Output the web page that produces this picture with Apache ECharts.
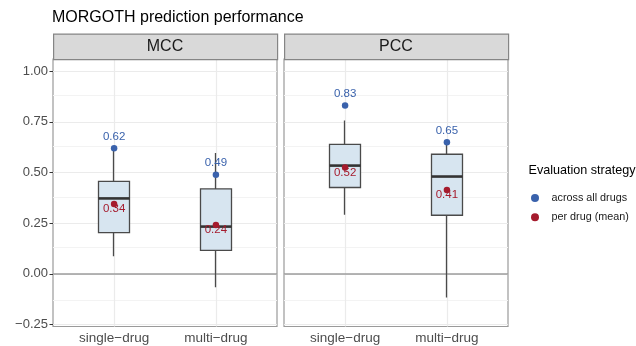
<!DOCTYPE html>
<html>
<head>
<meta charset="UTF-8">
<title>MORGOTH prediction performance</title>
<script src="https://cdn.jsdelivr.net/npm/echarts@6.0.0/dist/echarts.min.js"></script>
<style>
  body { margin: 0; padding: 0; background: #fff; }
  #main { width: 636px; height: 346px; }
</style>
</head>
<body>
<div id="main"></div>
<script>
// data
const panels = ['MCC', 'PCC'];
const categories = ['single\u2212drug', 'multi\u2212drug'];
// [min, Q1, median, Q3, max]
const mccBox = [[0.087, 0.203, 0.372, 0.456, 0.62], [-0.066, 0.116, 0.233, 0.419, 0.596]];
const pccBox = [[0.291, 0.426, 0.534, 0.639, 0.757], [-0.117, 0.289, 0.48, 0.59, 0.65]];
const mccAcross = [0.62, 0.489];
const mccPerDrug = [0.344, 0.241];
const pccAcross = [0.83, 0.649];
const pccPerDrug = [0.524, 0.414];
const yMajor = [-0.25, 0, 0.25, 0.5, 0.75, 1];
const yMinor = [-0.125, 0.125, 0.375, 0.625, 0.875];
const xMajor = [1, 2];

const FONT = '"Liberation Sans", Arial, Helvetica, sans-serif';
const BLUE = '#3a62ac';
const RED = '#a51b2d';
const BOXLINE = '#4a4a4a';
const panelLeft = [53, 284];
const panelWidth = 224;

const boxes = [mccBox, pccBox];
const across = [mccAcross, pccAcross];
const perDrug = [mccPerDrug, pccPerDrug];

const myChart = echarts.init(document.getElementById('main'), null, {renderer: 'canvas'});

let grids = [], xAxes = [], yAxes = [], series = [], graphics = [];

panels.forEach(function (name, p) {
    grids.push({
        left: panelLeft[p], width: panelWidth, top: 59, bottom: 19.5,
        show: true, borderColor: '#9a9a9a', borderWidth: 1.2, backgroundColor: 'transparent'
    });
    xAxes.push({
        type: 'value', gridIndex: p, min: 0.4, max: 2.6,
        axisLine: {show: false},
        splitLine: {show: false},
        axisTick: {show: true, customValues: xMajor, length: 3.5, lineStyle: {color: '#333', width: 1}},
        axisLabel: {
            customValues: xMajor, margin: 5,
            color: '#4d4d4d', fontSize: 13.5, fontFamily: FONT,
            formatter: function (v) { return categories[Math.round(v) - 1] || ''; }
        }
    });
    yAxes.push({
        type: 'value', gridIndex: p, min: -0.26, max: 1.06,
        axisLine: {show: false},
        splitLine: {show: false},
        axisTick: {show: p === 0, customValues: yMajor, length: 3.5, lineStyle: {color: '#333', width: 1}},
        axisLabel: {
            show: p === 0, customValues: yMajor, margin: 5,
            color: '#4d4d4d', fontSize: 13, fontFamily: FONT,
            formatter: function (v) { return v.toFixed(2).replace('-', '\u2212'); }
        }
    });

    // grid lines and the zero line
    let lines = [];
    yMinor.forEach(function (v) { lines.push({yAxis: v, lineStyle: {color: '#f3f3f3', width: 1, type: 'solid'}}); });
    yMajor.forEach(function (v) { lines.push({yAxis: v, lineStyle: {color: '#ebebeb', width: 1.2, type: 'solid'}}); });
    xMajor.forEach(function (v) { lines.push({xAxis: v, lineStyle: {color: '#ebebeb', width: 1.2, type: 'solid'}}); });
    lines.push({yAxis: 0, lineStyle: {color: '#9c9c9c', width: 1.6, type: 'solid'}});
    series.push({
        type: 'line', xAxisIndex: p, yAxisIndex: p, data: [], silent: true,
        markLine: {z: 1, silent: true, symbol: 'none', label: {show: false}, animation: false, data: lines}
    });

    // box + whiskers (no caps, like ggplot): candlestick [x, Q1, Q3, min, max]
    series.push({
        type: 'candlestick', xAxisIndex: p, yAxisIndex: p, z: 2, silent: true,
        barWidth: 31,
        itemStyle: {
            color: '#d7e5f0', color0: '#d7e5f0',
            borderColor: BOXLINE, borderColor0: BOXLINE, borderColorDoji: BOXLINE,
            borderWidth: 1.3
        },
        data: boxes[p].map(function (b, i) { return [i + 1, b[1], b[3], b[0], b[4]]; })
    });
    // thicker median bar
    series.push({
        type: 'scatter', xAxisIndex: p, yAxisIndex: p, z: 3, silent: true,
        symbol: 'rect', symbolSize: [31, 2.6],
        itemStyle: {color: '#333', opacity: 1},
        data: boxes[p].map(function (b, i) { return [i + 1, b[2]]; })
    });
    series.push({
        name: 'across all drugs', type: 'scatter', xAxisIndex: p, yAxisIndex: p, z: 4,
        symbolSize: 6.5, itemStyle: {color: BLUE, opacity: 1},
        label: {
            show: true, position: 'inside', offset: [0, -11.5],
            color: BLUE, fontSize: 11.5, fontFamily: FONT,
            formatter: function (d) { return d.value[1].toFixed(2); }
        },
        data: across[p].map(function (v, i) { return [i + 1, v]; })
    });
    series.push({
        name: 'per drug (mean)', type: 'scatter', xAxisIndex: p, yAxisIndex: p, z: 4,
        symbolSize: 6.5, itemStyle: {color: RED, opacity: 1},
        label: {
            show: true, position: 'inside', offset: [0, 5],
            color: RED, fontSize: 11.5, fontFamily: FONT,
            formatter: function (d) { return d.value[1].toFixed(2); }
        },
        data: perDrug[p].map(function (v, i) { return [i + 1, v]; })
    });

    // facet strip
    graphics.push({
        type: 'rect', left: panelLeft[p], top: 33.5, z: 10,
        shape: {width: panelWidth, height: 25.5},
        style: {fill: '#d9d9d9', stroke: '#858585', lineWidth: 1.2}
    });
    graphics.push({
        type: 'text', x: panelLeft[p] + panelWidth / 2, y: 46.5, z: 11,
        style: {text: name, fill: '#1a1a1a', font: '16px ' + FONT, align: 'center', verticalAlign: 'middle'}
    });
});

graphics.push({
    type: 'text', x: 528.5, y: 171, z: 11,
    style: {text: 'Evaluation strategy', fill: '#000', font: '12.6px ' + FONT, align: 'left', verticalAlign: 'middle'}
});

const option = {
    animation: false,
    backgroundColor: '#fff',
    title: {
        text: 'MORGOTH prediction performance',
        left: 52, top: 10, padding: 0,
        textStyle: {fontSize: 16, fontWeight: 'normal', color: '#000', fontFamily: FONT}
    },
    legend: {
        data: ['across all drugs', 'per drug (mean)'],
        orient: 'vertical', left: 526, top: 187,
        itemWidth: 23, itemHeight: 8, itemGap: 7.3,
        icon: 'circle',
        selectedMode: false,
        textStyle: {fontSize: 10.8, lineHeight: 12, color: '#1a1a1a', fontFamily: FONT}
    },
    grid: grids,
    xAxis: xAxes,
    yAxis: yAxes,
    graphic: graphics,
    series: series
};

myChart.setOption(option);
</script>
</body>
</html>
